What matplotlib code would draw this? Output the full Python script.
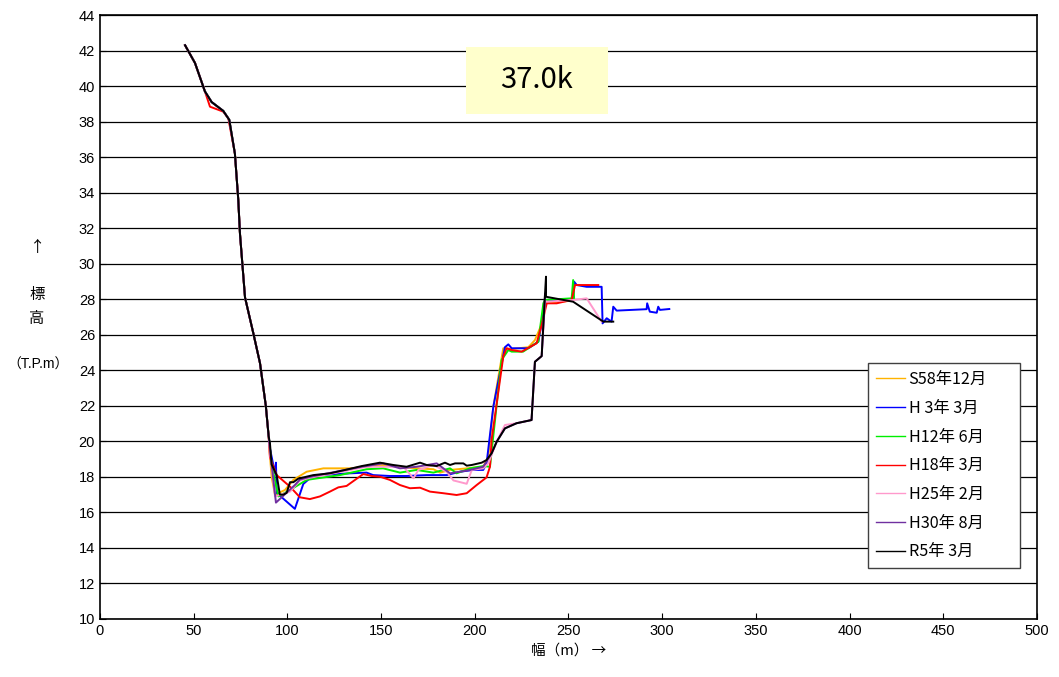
import numpy as np
import matplotlib
matplotlib.use("Agg")
import matplotlib.pyplot as plt
from matplotlib.patches import Rectangle

plt.rcParams['font.family'] = ['Liberation Sans', 'Noto Sans CJK JP', 'DejaVu Sans']
jp = ['Noto Sans CJK JP', 'DejaVu Sans']

# общий верхний откос (левый берег)
upper_x = [45.4, 50.7, 56.0, 59.6, 65.8, 69.0, 72.0, 73.8, 74.7, 77.4, 81.8, 85.4, 88.5, 90.0]
upper_y = [42.3, 41.3, 39.7, 39.1, 38.6, 38.1, 36.2, 33.6, 31.7, 28.1, 26.1, 24.4, 22.0, 20.3]

# S58年12月
s58_x = [90.7, 91.6, 93.4, 98.7, 103.2, 110.3, 119.2, 133.4, 151.1, 160.1, 169.0, 177.9, 181.5,
         186.8, 195.7, 204.5, 207.2, 209.9, 215.2, 219.7, 228.6, 232.1, 235.7, 237.5, 250.0, 253.0]
s58_y = [19.2, 18.0, 17.0, 17.26, 17.83, 18.29, 18.48, 18.48, 18.67, 18.57, 18.48, 18.43, 18.24,
         18.39, 18.48, 18.57, 19.14, 21.95, 25.24, 25.2, 25.3, 25.7, 26.6, 27.8, 27.9, 28.0]

# H 3年 3月
h3_x = [90.7, 93.4, 93.9, 94.3, 104.0, 108.5, 112.0, 117.4, 133.4, 142.3, 145.8, 154.7, 163.6,
        174.3, 185.0, 192.1, 199.2, 204.5, 206.3, 209.9, 216.1, 217.9, 219.7, 228.6, 233.9, 235.7,
        237.5, 249.0, 252.5, 253.0, 254.4, 259.7, 267.7, 268.2, 270.4, 273.0, 273.9, 275.7, 291.7,
        292.0, 293.4, 297.1, 297.9, 298.8, 303.8]
h3_y = [19.6, 18.2, 18.8, 17.1, 16.2, 17.6, 17.92, 18.1, 18.2, 18.24, 18.1, 18.05, 18.05,
        18.1, 18.1, 18.29, 18.39, 18.39, 18.76, 21.95, 25.3, 25.46, 25.24, 25.24, 25.61, 26.64,
        27.86, 27.99, 27.99, 28.99, 28.8, 28.7, 28.7, 26.64, 26.93, 26.74, 27.58, 27.36, 27.44,
        27.77, 27.3, 27.24, 27.58, 27.4, 27.45]

# H12年 6月
h12_x = [90.7, 91.6, 95.2, 101.4, 110.3, 128.0, 142.3, 151.1, 160.1, 169.0, 177.9, 186.8, 190.3,
         197.5, 204.5, 208.1, 214.3, 217.9, 219.7, 225.8, 233.9, 236.6, 237.5, 251.7, 252.5, 253.0]
h12_y = [19.6, 18.7, 16.9, 17.26, 17.83, 18.1, 18.43, 18.48, 18.24, 18.39, 18.24, 18.48, 18.2,
         18.48, 18.61, 18.57, 24.58, 25.14, 25.05, 25.05, 25.61, 27.77, 27.96, 28.05, 29.08, 28.05]

# H18年 3月
h18_x = [45.4, 50.7, 56.0, 58.7, 65.8, 68.5, 72.0, 73.8, 74.7, 77.4, 81.8, 85.4, 88.5, 90.0,
         90.7, 94.3, 101.4, 106.7, 112.0, 117.4, 122.7, 127.2, 131.6, 136.1, 140.5, 145.0, 149.4,
         154.7, 160.1, 165.4, 170.8, 176.1, 183.2, 190.3, 195.7, 201.0, 206.3, 208.1, 209.0, 215.2,
         217.0, 219.7, 225.0, 233.0, 235.7, 238.4, 243.7, 251.7, 253.5, 256.1, 265.9]
h18_y = [42.3, 41.3, 39.7, 38.84, 38.56, 38.18, 36.2, 33.6, 31.7, 28.1, 26.1, 24.4, 22.0, 20.3,
         19.1, 18.1, 17.45, 16.85, 16.75, 16.9, 17.17, 17.41, 17.49, 17.83, 18.16, 18.05, 18.01,
         17.83, 17.54, 17.36, 17.39, 17.17, 17.08, 16.98, 17.08, 17.54, 17.97, 18.57, 20.1, 24.77,
         25.24, 25.14, 25.05, 25.52, 26.55, 27.77, 27.77, 27.96, 28.8, 28.8, 28.8]

# H25年 2月
h25_x = [90.7, 93.4, 101.4, 106.7, 112.0, 124.5, 142.3, 154.7, 161.9, 167.3, 169.9, 177.9, 185.0,
         188.6, 195.7, 198.4, 204.5, 207.2, 211.7, 216.1, 222.3, 230.3, 232.1, 235.7, 237.5, 238.4,
         252.5, 259.7, 267.7]
h25_y = [19.4, 16.9, 17.17, 17.8, 17.95, 18.2, 18.57, 18.57, 18.57, 17.92, 18.39, 18.67, 18.29,
         17.8, 17.61, 18.39, 18.48, 18.76, 19.98, 20.92, 21.02, 21.2, 24.48, 24.8, 27.9, 27.86,
         27.96, 28.05, 26.74]

# H30年 8月
h30_x = [90.7, 91.6, 93.9, 104.0, 106.7, 112.0, 130.8, 139.7, 151.1, 160.1, 169.0, 179.7, 186.8,
         195.7, 204.5, 209.0, 211.7, 216.1, 222.3, 230.3, 232.1, 235.7, 237.5]
h30_y = [19.6, 18.7, 16.55, 17.54, 17.85, 18.0, 18.39, 18.57, 18.76, 18.48, 18.57, 18.76, 18.2,
         18.35, 18.57, 19.33, 19.98, 20.73, 21.02, 21.2, 24.48, 24.8, 28.3]

# R5年 3月
r5_x = [90.7, 91.6, 94.3, 96.0, 97.8, 99.6, 101.4, 103.2, 105.8, 113.8, 122.7, 130.8, 139.7,
        149.4, 156.5, 163.6, 170.8, 174.3, 179.7, 184.1, 186.8, 189.5, 193.9, 195.7, 198.4, 203.7,
        206.3, 209.0, 211.7, 216.1, 222.3, 230.3, 232.1, 235.7, 237.5, 238.0, 238.0, 252.5, 268.6,
        273.9]
r5_y = [19.9, 18.7, 18.1, 17.0, 17.0, 17.1, 17.7, 17.7, 17.9, 18.1, 18.2, 18.39, 18.61,
        18.8, 18.67, 18.57, 18.8, 18.67, 18.61, 18.8, 18.67, 18.76, 18.76, 18.63, 18.67, 18.8,
        18.95, 19.33, 19.98, 20.73, 21.02, 21.2, 24.48, 24.8, 28.33, 29.27, 28.14, 27.86, 26.74,
        26.74]

labels = ["S58年12月", "H 3年 3月", "H12年 6月", "H18年 3月", "H25年 2月", "H30年 8月", "R5年 3月"]
colors = ["#FFB300", "#0000FF", "#00EE00", "#FF0000", "#FF99CC", "#7030A0", "#000000"]

series = [
    (upper_x + s58_x, upper_y + s58_y),
    (upper_x + h3_x, upper_y + h3_y),
    (upper_x + h12_x, upper_y + h12_y),
    (h18_x, h18_y),
    (upper_x + h25_x, upper_y + h25_y),
    (upper_x + h30_x, upper_y + h30_y),
    (upper_x + r5_x, upper_y + r5_y),
]

fig = plt.figure(figsize=(10.59, 6.77), dpi=100)
ax = fig.add_axes([0.0944, 0.0857, 0.8848, 0.8921])

for (xs, ys), lab, col in zip(series, labels, colors):
    ax.plot(xs, ys, color=col, lw=1.4, label=lab)

ax.set_xlim(0, 500)
ax.set_ylim(10, 44)
ax.set_xticks(np.arange(0, 501, 50))
ax.set_yticks(np.arange(10, 45, 2))
ax.yaxis.grid(True, color="black", lw=0.9)
ax.set_axisbelow(True)
ax.tick_params(direction="in", labelsize=10.5, length=4)
for sp in ax.spines.values():
    sp.set_linewidth(1.2)

ax.set_xlabel("幅（m） →", fontsize=10.5, labelpad=4, family=jp)

fig.text(0.035, 0.635, "↑", fontsize=11, ha="center", va="center", family=jp)
fig.text(0.035, 0.565, "標", fontsize=11, ha="center", va="center", family=jp)
fig.text(0.035, 0.530, "高", fontsize=11, ha="center", va="center", family=jp)
fig.text(0.036, 0.461, "（T.P.m）", fontsize=10, ha="center", va="center")

# надпись сечения
ax.add_patch(Rectangle((0.3906, 0.836), 0.1516, 0.111, transform=ax.transAxes,
                       facecolor="#FFFFCC", edgecolor="none", zorder=3))
ax.text(0.4664, 0.892, "37.0k", transform=ax.transAxes, fontsize=21, ha="center",
        va="center", family=jp, zorder=4)

leg = ax.legend(loc="upper left", bbox_to_anchor=(0.8196, 0.4238, 0.1622, 0.0), mode="expand",
                borderaxespad=0, prop={'family': jp, 'size': 11.7}, labelspacing=0.72,
                handlelength=1.8, handletextpad=0.2, fancybox=False, framealpha=1,
                borderpad=0.5)
leg.get_frame().set_edgecolor("#404040")
leg.get_frame().set_linewidth(1.0)
for line in leg.get_lines():
    line.set_linewidth(1.0)

fig.savefig("out.png", dpi=100)
